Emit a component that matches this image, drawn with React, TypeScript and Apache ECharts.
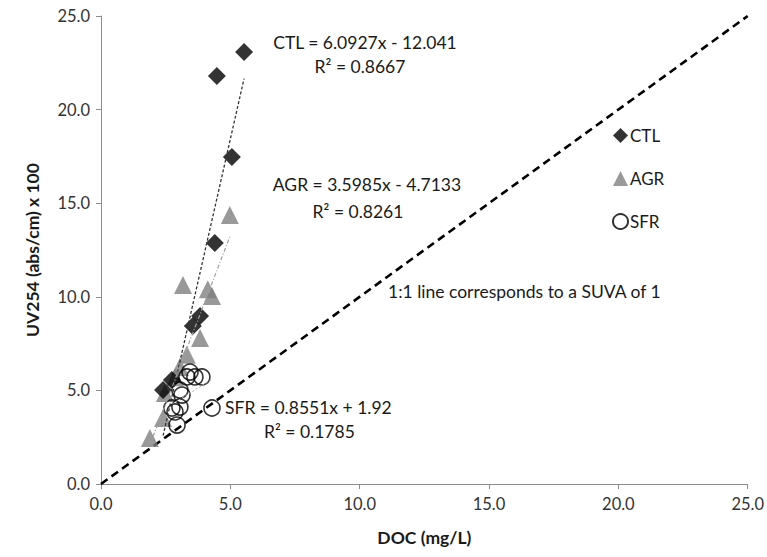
import React, { useEffect, useRef } from "react";
import * as echarts from "echarts";

const ctlPoints: number[][] = [
  [5.53, 23.08], [4.48, 21.8], [5.06, 17.47], [4.4, 12.87],
  [3.83, 8.97], [3.55, 8.44], [2.74, 5.56], [2.4, 5.02],
];
const agrPoints: number[][] = [
  [4.98, 14.37], [3.17, 10.63], [4.13, 10.4], [4.29, 10.04], [3.83, 7.8],
  [3.32, 6.9], [3.05, 6.25], [2.86, 5.7], [2.47, 4.86], [2.4, 3.53], [1.89, 2.46],
];
const sfrPoints: number[][] = [
  [3.44, 5.98], [3.63, 5.72], [3.9, 5.72], [3.32, 5.72], [3.05, 5.02],
  [3.13, 4.75], [2.74, 4.06], [3.05, 4.11], [2.86, 3.85], [2.94, 3.15], [4.29, 4.06],
];
// regression coefficients [slope, intercept]
const ctlFit = [6.0927, -12.041];
const agrFit = [3.5985, -4.7133];
const sfrFit = [0.8551, 1.92];
const oneToOne: number[][] = [[0, 0], [25, 25]];
const axisMin = 0;
const axisMax = 25;
const axisStep = 5;

function fitLine(points: number[][], fit: number[]): number[][] {
  const xs = points.map((p) => p[0]);
  const lo = Math.min(...xs);
  const hi = Math.max(...xs);
  return [[lo, fit[0] * lo + fit[1]], [hi, fit[0] * hi + fit[1]]];
}

const FONT = "Lato";

export default function App() {
  const ref = useRef<HTMLDivElement>(null);
  useEffect(() => {
    if (!ref.current) return;
    const chart = echarts.init(ref.current, undefined, { renderer: "svg" });
    const textStyle = { fontFamily: FONT, fontSize: 17.5, fill: "#1a1a1a" };
    chart.setOption({
      animation: false,
      backgroundColor: "#ffffff",
      grid: { left: 101, right: 19, top: 16, bottom: 73 },
      xAxis: {
        type: "value",
        min: axisMin,
        max: axisMax,
        interval: axisStep,
        name: "DOC (mg/L)",
        nameLocation: "middle",
        nameGap: 44,
        nameTextStyle: { fontFamily: FONT, fontSize: 17.5, fontWeight: "bold", color: "#1a1a1a" },
        axisLine: { onZero: false, lineStyle: { color: "#8c8c8c", width: 1 } },
        axisTick: { show: true, length: 5, lineStyle: { color: "#8c8c8c" } },
        axisLabel: {
          fontFamily: FONT, fontSize: 16.5, color: "#333333", margin: 11,
          formatter: (v: number) => v.toFixed(1),
        },
        splitLine: { show: false },
      },
      yAxis: {
        type: "value",
        min: axisMin,
        max: axisMax,
        interval: axisStep,
        name: "UV254 (abs/cm) x 100",
        nameLocation: "middle",
        nameGap: 60,
        nameTextStyle: { fontFamily: FONT, fontSize: 17.5, fontWeight: "bold", color: "#1a1a1a" },
        axisLine: { onZero: false, lineStyle: { color: "#8c8c8c", width: 1 } },
        axisTick: { show: true, length: 5, lineStyle: { color: "#8c8c8c" } },
        axisLabel: {
          fontFamily: FONT, fontSize: 16.5, color: "#333333", margin: 11,
          formatter: (v: number) => v.toFixed(1),
        },
        splitLine: { show: false },
      },
      legend: {
        orient: "vertical",
        left: 607,
        top: 122,
        itemGap: 26,
        itemWidth: 15,
        itemHeight: 15,
        data: ["CTL", "AGR", "SFR"],
        textStyle: { fontFamily: FONT, fontSize: 17, color: "#1a1a1a", padding: [0, 0, 0, -3] },
      },
      series: [
        {
          name: "1:1",
          type: "line",
          data: oneToOne,
          symbol: "none",
          lineStyle: { color: "#000", width: 2.6, type: [8, 5] },
          z: 1,
        },
        {
          name: "AGR",
          type: "scatter",
          data: agrPoints,
          symbol: "triangle",
          symbolSize: 18,
          itemStyle: { color: "#808080" },
          z: 2,
        },
        {
          name: "CTL",
          type: "scatter",
          data: ctlPoints,
          symbol: "diamond",
          symbolSize: 18,
          itemStyle: { color: "#000000" },
          z: 3,
        },
        {
          name: "SFR",
          type: "scatter",
          data: sfrPoints,
          symbol: "circle",
          symbolSize: 16,
          itemStyle: { color: "rgba(255,255,255,0)", borderColor: "#000", borderWidth: 1.6 },
          z: 4,
        },
        {
          name: "CTL fit",
          type: "line",
          data: fitLine(ctlPoints, ctlFit),
          symbol: "none",
          lineStyle: { color: "#333", width: 1.3, type: [3, 2] },
          z: 5,
        },
        {
          name: "AGR fit",
          type: "line",
          data: fitLine(agrPoints, agrFit),
          symbol: "none",
          lineStyle: { color: "#a0a0a0", width: 1.2, type: [4, 2, 1, 2] },
          z: 5,
        },
        {
          name: "SFR fit",
          type: "line",
          data: fitLine(sfrPoints, sfrFit),
          symbol: "none",
          lineStyle: { color: "#b0b0b0", width: 1, type: [2, 2] },
          z: 5,
        },
      ],
      graphic: [
        { type: "text", x: 365, y: 42, style: { ...textStyle, text: "CTL = 6.0927x - 12.041", align: "center", verticalAlign: "middle" } },
        { type: "text", x: 360, y: 66, style: { ...textStyle, text: "R² = 0.8667", align: "center", verticalAlign: "middle" } },
        { type: "text", x: 367, y: 184, style: { ...textStyle, text: "AGR = 3.5985x - 4.7133", align: "center", verticalAlign: "middle" } },
        { type: "text", x: 358, y: 211, style: { ...textStyle, text: "R² = 0.8261", align: "center", verticalAlign: "middle" } },
        { type: "text", x: 388, y: 291, style: { ...textStyle, text: "1:1 line corresponds to a SUVA of 1", align: "left", verticalAlign: "middle" } },
        { type: "text", x: 225, y: 407, style: { ...textStyle, text: "SFR = 0.8551x + 1.92", align: "left", verticalAlign: "middle" } },
        { type: "text", x: 264, y: 431, style: { ...textStyle, text: "R² = 0.1785", align: "left", verticalAlign: "middle" } },
      ],
    });
    return () => chart.dispose();
  }, []);
  return <div ref={ref} style={{ width: 767, height: 557, position: "absolute", left: 0, top: 0 }} />;
}
